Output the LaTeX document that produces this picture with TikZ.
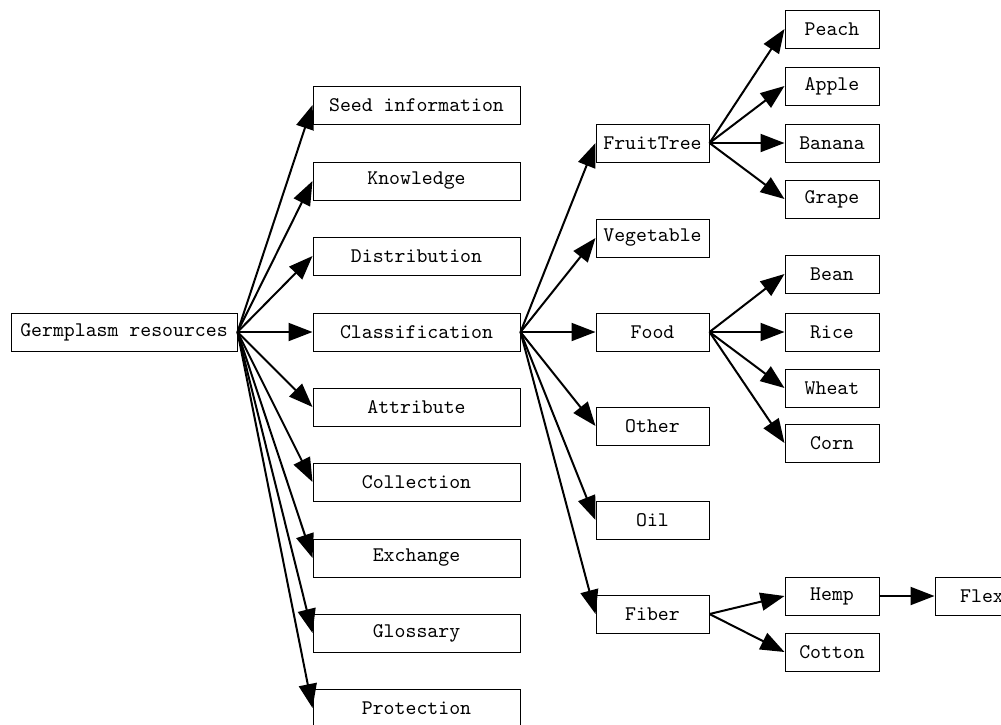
\documentclass[tikz,border=0pt]{standalone}
\usepackage{fontspec}
\setmonofont{Latin Modern Mono}
\usetikzlibrary{arrows.meta}
\tikzset{
  box/.style={draw,line width=0.5pt,minimum height=19pt,inner sep=0pt,
    font=\ttfamily\fontsize{10.4}{12}\selectfont},
  rootbox/.style={box,minimum width=113pt},
  leftbox/.style={box,minimum width=103.5pt},
  midbox/.style={box,minimum width=56.5pt},
  rightbox/.style={box,minimum width=47pt},
  link/.style={line width=1pt,-{Triangle[length=12pt,width=9pt]}}
}
\begin{document}
\begin{tikzpicture}[x=0.5pt,y=-0.5pt]
\useasboundingbox (0,0) rectangle (1001,724);
\node[rootbox] (germ) at (124,332) {Germplasm resources};
% first level
\foreach \n/\t/\y in {seed/Seed information/105,know/Knowledge/181,
    dist/Distribution/256,class/Classification/332,attr/Attribute/407,
    coll/Collection/482,exch/Exchange/558,gloss/Glossary/633,prot/Protection/708} {
    \node[leftbox] (\n) at (416.5,\y) {\t};
    \draw[link] (germ.east) -- (\n.west);
}
% second level
\foreach \n/\t/\y in {fruit/FruitTree/143,veg/Vegetable/238,food/Food/332,
    other/Other/426,oil/Oil/520,fiber/Fiber/614} {
    \node[midbox] (\n) at (652.5,\y) {\t};
    \draw[link] (class.east) -- (\n.west);
}
% third level
\foreach \n/\t/\y/\p in {peach/Peach/29/fruit,apple/Apple/86/fruit,
    banana/Banana/143/fruit,grape/Grape/199/fruit,bean/Bean/274/food,
    rice/Rice/332/food,wheat/Wheat/388/food,corn/Corn/443/food,
    hemp/Hemp/596/fiber,cotton/Cotton/652/fiber} {
    \node[rightbox] (\n) at (832,\y) {\t};
    \draw[link] (\p.east) -- (\n.west);
}
\node[rightbox] (flex) at (982,596) {Flex};
\draw[link] (hemp.east) -- (flex.west);
\end{tikzpicture}
\end{document}
